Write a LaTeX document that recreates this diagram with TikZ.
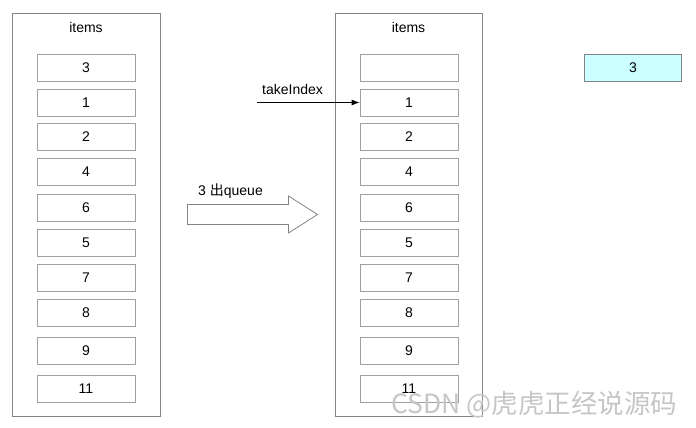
\documentclass[tikz,border=0pt]{standalone}
\usepackage{fontspec}
\setmainfont{Liberation Sans}
\newfontfamily\cjk{Noto Sans CJK SC}
\usetikzlibrary{positioning,arrows.meta,calc}
\definecolor{framegray}{HTML}{848484}
\definecolor{cellgray}{HTML}{A0A0A0}
\definecolor{popcyan}{HTML}{CCFFFF}

\begin{document}
\begin{tikzpicture}[x=1pt,y=-1pt,line width=0.8pt,
   every node/.style={font=\fontsize{14}{17}\selectfont},
   frame/.style={draw=framegray,minimum width=148pt,minimum height=403pt,inner sep=0pt},
   cell/.style={draw=cellgray,fill=white,minimum width=98pt,minimum height=27pt,inner sep=0pt}]
  \useasboundingbox (0,0) rectangle (696,428);

  % the two arrays
  \node[frame] (left) at (86,214.5) {};
  \node[frame,minimum width=147pt] (right) at (408.5,214.5) {};
  \node (litems) at (86,27) {items};
  \node (ritems) at (408.5,27) {items};

  % before
  \foreach \v/\y [count=\i] in {3/67.5,1/102.5,2/137,4/172,6/207.5,5/242.5,7/277.5,8/312.5,9/350.5,11/389}
    \node[cell] (L\i) at (86,\y) {\v};

  % after
  \foreach \v/\y [count=\i] in {/67.5,1/102.5,2/137,4/172,6/207.5,5/242.5,7/277.5,8/312.5,9/350.5,11/389}
    \node[cell] (R\i) at (409,\y) {\v};

  % taken element
  \node[cell,draw=framegray,fill=popcyan,minimum width=97pt] (out) at (633,67.5) {3};

  % take pointer
  \node (take) at (292.5,89) {takeIndex};
  \coordinate (takestart) at (257,102.5);
  \draw[-{Latex[length=8pt,width=6pt]}] (takestart) -- (R2.west);

  % dequeue arrow
  \draw[draw=framegray,fill=white] (187.5,204.5) -- (288.5,204.5) -- (288.5,196) -- (317.5,214.5)
     -- (288.5,233) -- (288.5,224.5) -- (187.5,224.5) -- cycle;
  \node (deq) at (230.5,191.5) {3 {\cjk 出}queue};

  \node[anchor=east,text=gray!45,font=\cjk\fontsize{26.5}{30}\selectfont] (mark) at (681,405) {CSDN @虎虎正经说源码};
\end{tikzpicture}
\end{document}
